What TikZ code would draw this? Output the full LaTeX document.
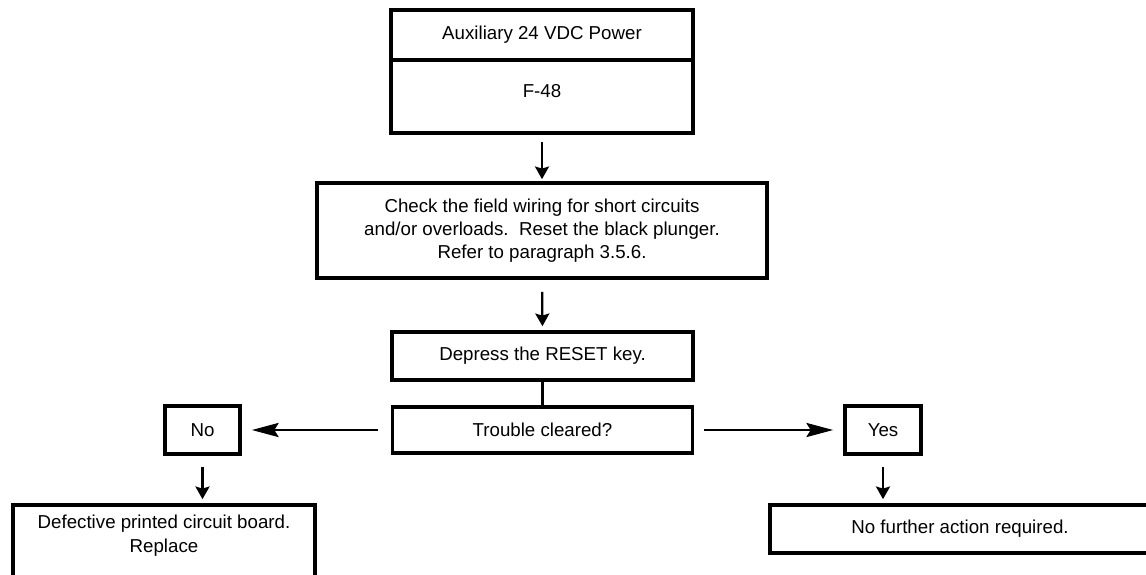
\documentclass[tikz,border=0pt]{standalone}
\usepackage{fontspec}
\setmainfont{Liberation Sans}
\usetikzlibrary{arrows.meta}

\begin{document}
\begin{tikzpicture}[x=0.025cm, y=-0.025cm,
  font=\fontsize{13.3}{16.3}\selectfont,
  box/.style={draw, line width=2.6pt, inner sep=0pt, align=center},
  flow/.style={line width=1.6pt, -{Stealth[length=9pt, width=10pt, inset=1.5pt]}},
  branch/.style={line width=1.8pt, -{Stealth[length=19pt, width=10pt, inset=3pt]}}]
  \useasboundingbox (0,0) rectangle (1146,574);

  % Fuse header
  \node[box, minimum width=7.55cm, minimum height=1.25cm] (aux) at (542,35) {Auxiliary 24 VDC Power};
  \node[box, minimum width=7.55cm, minimum height=1.825cm, text depth=0.3cm] (fuse) at (542,96.5) {F-48};

  % Steps
  \node[box, minimum width=11.25cm, minimum height=2.375cm] (check) at (542,230.5)
    {Check the field wiring for short circuits\\
     and/or overloads.\ \ Reset the black plunger.\\
     Refer to paragraph 3.5.6.};
  \node[box, minimum width=7.525cm, minimum height=1.2cm] (reset) at (542.5,356) {Depress the RESET key.};
  \node[box, minimum width=7.5cm, minimum height=1.15cm] (cleared) at (542.5,430) {Trouble cleared?};

  % Answers
  \node[box, minimum width=1.875cm, minimum height=1.2cm] (no) at (202.5,430) {No};
  \node[box, minimum width=1.9cm, minimum height=1.2cm] (yes) at (883,430) {Yes};

  % Outcomes (cut at the page edge)
  \node[box, minimum width=7.55cm, minimum height=1.8cm] (defect) at (164,541)
    {\raisebox{0.13cm}[\height][\depth]{\shortstack{Defective printed circuit board.\\[2pt] Replace}}};
  \node[box, minimum width=9.5cm, minimum height=1.2cm] (noaction) at (960,529) {No further action required.};

  % Connectors
  \draw[flow, shorten <=0.175cm, shorten >=0.05cm] (fuse.south) -- (check.north);
  \draw[flow, shorten <=0.3cm, shorten >=0.1cm] (check.south) -- (reset.north);
  \draw[line width=2.6pt] (reset.south) -- (cleared.north);
  \draw[branch, shorten <=0.325cm, shorten >=0.25cm] (cleared.west) -- (no.east);
  \draw[branch, shorten <=0.25cm, shorten >=0.25cm] (cleared.east) -- (yes.west);
  \draw[flow, shorten <=0.275cm, shorten >=0.1cm] (no.south) -- (no.south |- defect.north);
  \draw[flow, shorten <=0.275cm, shorten >=0.1cm] (yes.south) -- (yes.south |- noaction.north);
\end{tikzpicture}
\end{document}
